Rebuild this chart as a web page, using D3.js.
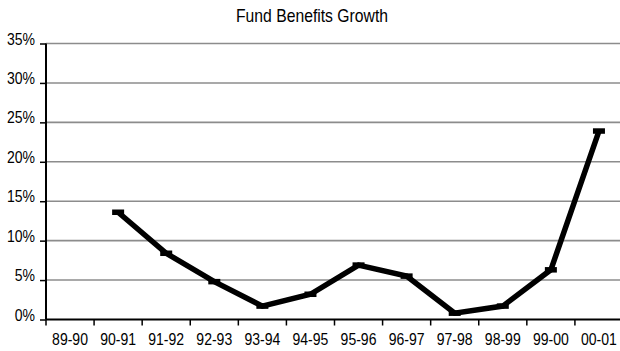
<!DOCTYPE html>
<html>
<head>
<meta charset="utf-8">
<script src="https://cdn.jsdelivr.net/npm/d3@7"></script>
<style>
  html, body { margin: 0; padding: 0; background: #fff; }
  svg { display: block; }
  text { font-family: "Liberation Sans", Arial, Helvetica, sans-serif; fill: #000; }
</style>
</head>
<body>
<svg id="chart" width="620" height="351"></svg>
<script>
// Fiscal years on the category axis
const years = ["89-90", "90-91", "91-92", "92-93", "93-94", "94-95", "95-96", "96-97", "97-98", "98-99", "99-00", "00-01"];
// Year-on-year growth of fund benefits, percent (no figure for 89-90)
const growth = [null, 13.6, 8.4, 4.8, 1.7, 3.2, 6.9, 5.5, 0.8, 1.7, 6.3, 23.9];
// Value axis ticks, percent
const yTicks = [0, 5, 10, 15, 20, 25, 30, 35];

const width = 620, height = 351;
const margin = { top: 43.5, right: -3, bottom: 31.5, left: 46 };
// Horizontal squeeze that gives the labels a narrow face
const narrow = 0.85;

const svg = d3.select("#chart");

const x = d3.scaleBand()
  .domain(years)
  .range([margin.left, width - margin.right])
  .paddingInner(0).paddingOuter(0);

const y = d3.scaleLinear()
  .domain([0, 35])
  .range([height - margin.bottom, margin.top]);

// Draws a text squeezed horizontally around its anchor point
function narrowText(sel, fx, fy) {
  return sel.attr("transform", d => `translate(${fx(d)},${fy(d)}) scale(${narrow},1)`);
}

// Horizontal gridlines
svg.append("g")
  .selectAll("line")
  .data(yTicks.filter(d => d > 0))
  .join("line")
  .attr("x1", margin.left)
  .attr("x2", width)
  .attr("y1", d => y(d))
  .attr("y2", d => y(d))
  .attr("stroke", "#8c8c8c")
  .attr("stroke-width", 1.6);

// Title
svg.append("text")
  .attr("transform", `translate(312,22) scale(${narrow},1)`)
  .attr("text-anchor", "middle")
  .attr("font-size", 18.5)
  .text("Fund Benefits Growth");

// Value axis
const yAxis = svg.append("g")
  .attr("transform", `translate(${margin.left},0)`)
  .call(d3.axisLeft(y).tickValues(yTicks).tickFormat("").tickSize(6));
yAxis.select(".domain").attr("stroke", "#000").attr("stroke-width", 2)
  .attr("d", `M0,${y(35)}V${y(0)}`);
yAxis.selectAll(".tick line").attr("stroke", "#000").attr("stroke-width", 1.5);

svg.append("g")
  .selectAll("text")
  .data(yTicks)
  .join("text")
  .call(narrowText, () => margin.left - 11, d => y(d) + 1)
  .attr("text-anchor", "end")
  .attr("font-size", 16.5)
  .text(d => d + "%");

// Category axis: ticks sit on the boundaries between years
const xAxisG = svg.append("g")
  .attr("transform", `translate(0,${y(0)})`);
xAxisG.append("line")
  .attr("x1", margin.left).attr("x2", width)
  .attr("stroke", "#000").attr("stroke-width", 2);
xAxisG.selectAll("line.tk")
  .data(years)
  .join("line")
  .attr("class", "tk")
  .attr("x1", d => x(d)).attr("x2", d => x(d))
  .attr("y1", 0).attr("y2", 6)
  .attr("stroke", "#000").attr("stroke-width", 1.5);
xAxisG.selectAll("text")
  .data(years)
  .join("text")
  .call(narrowText, d => x(d) + x.bandwidth() / 2, () => 25.5)
  .attr("text-anchor", "middle")
  .attr("font-size", 16.5)
  .text(d => d);

// Growth line
const pts = years.map((d, i) => ({ year: d, v: growth[i] })).filter(p => p.v != null);
const line = d3.line()
  .x(p => x(p.year) + x.bandwidth() / 2)
  .y(p => y(p.v));

svg.append("path")
  .datum(pts)
  .attr("d", line)
  .attr("fill", "none")
  .attr("stroke", "#000")
  .attr("stroke-width", 5.5)
  .attr("stroke-linejoin", "miter");

// Dash markers at each point
svg.append("g")
  .selectAll("rect")
  .data(pts)
  .join("rect")
  .attr("x", p => x(p.year) + x.bandwidth() / 2 - 6)
  .attr("y", p => y(p.v) - 2.75)
  .attr("width", 12)
  .attr("height", 5.5)
  .attr("fill", "#000");
</script>
</body>
</html>
